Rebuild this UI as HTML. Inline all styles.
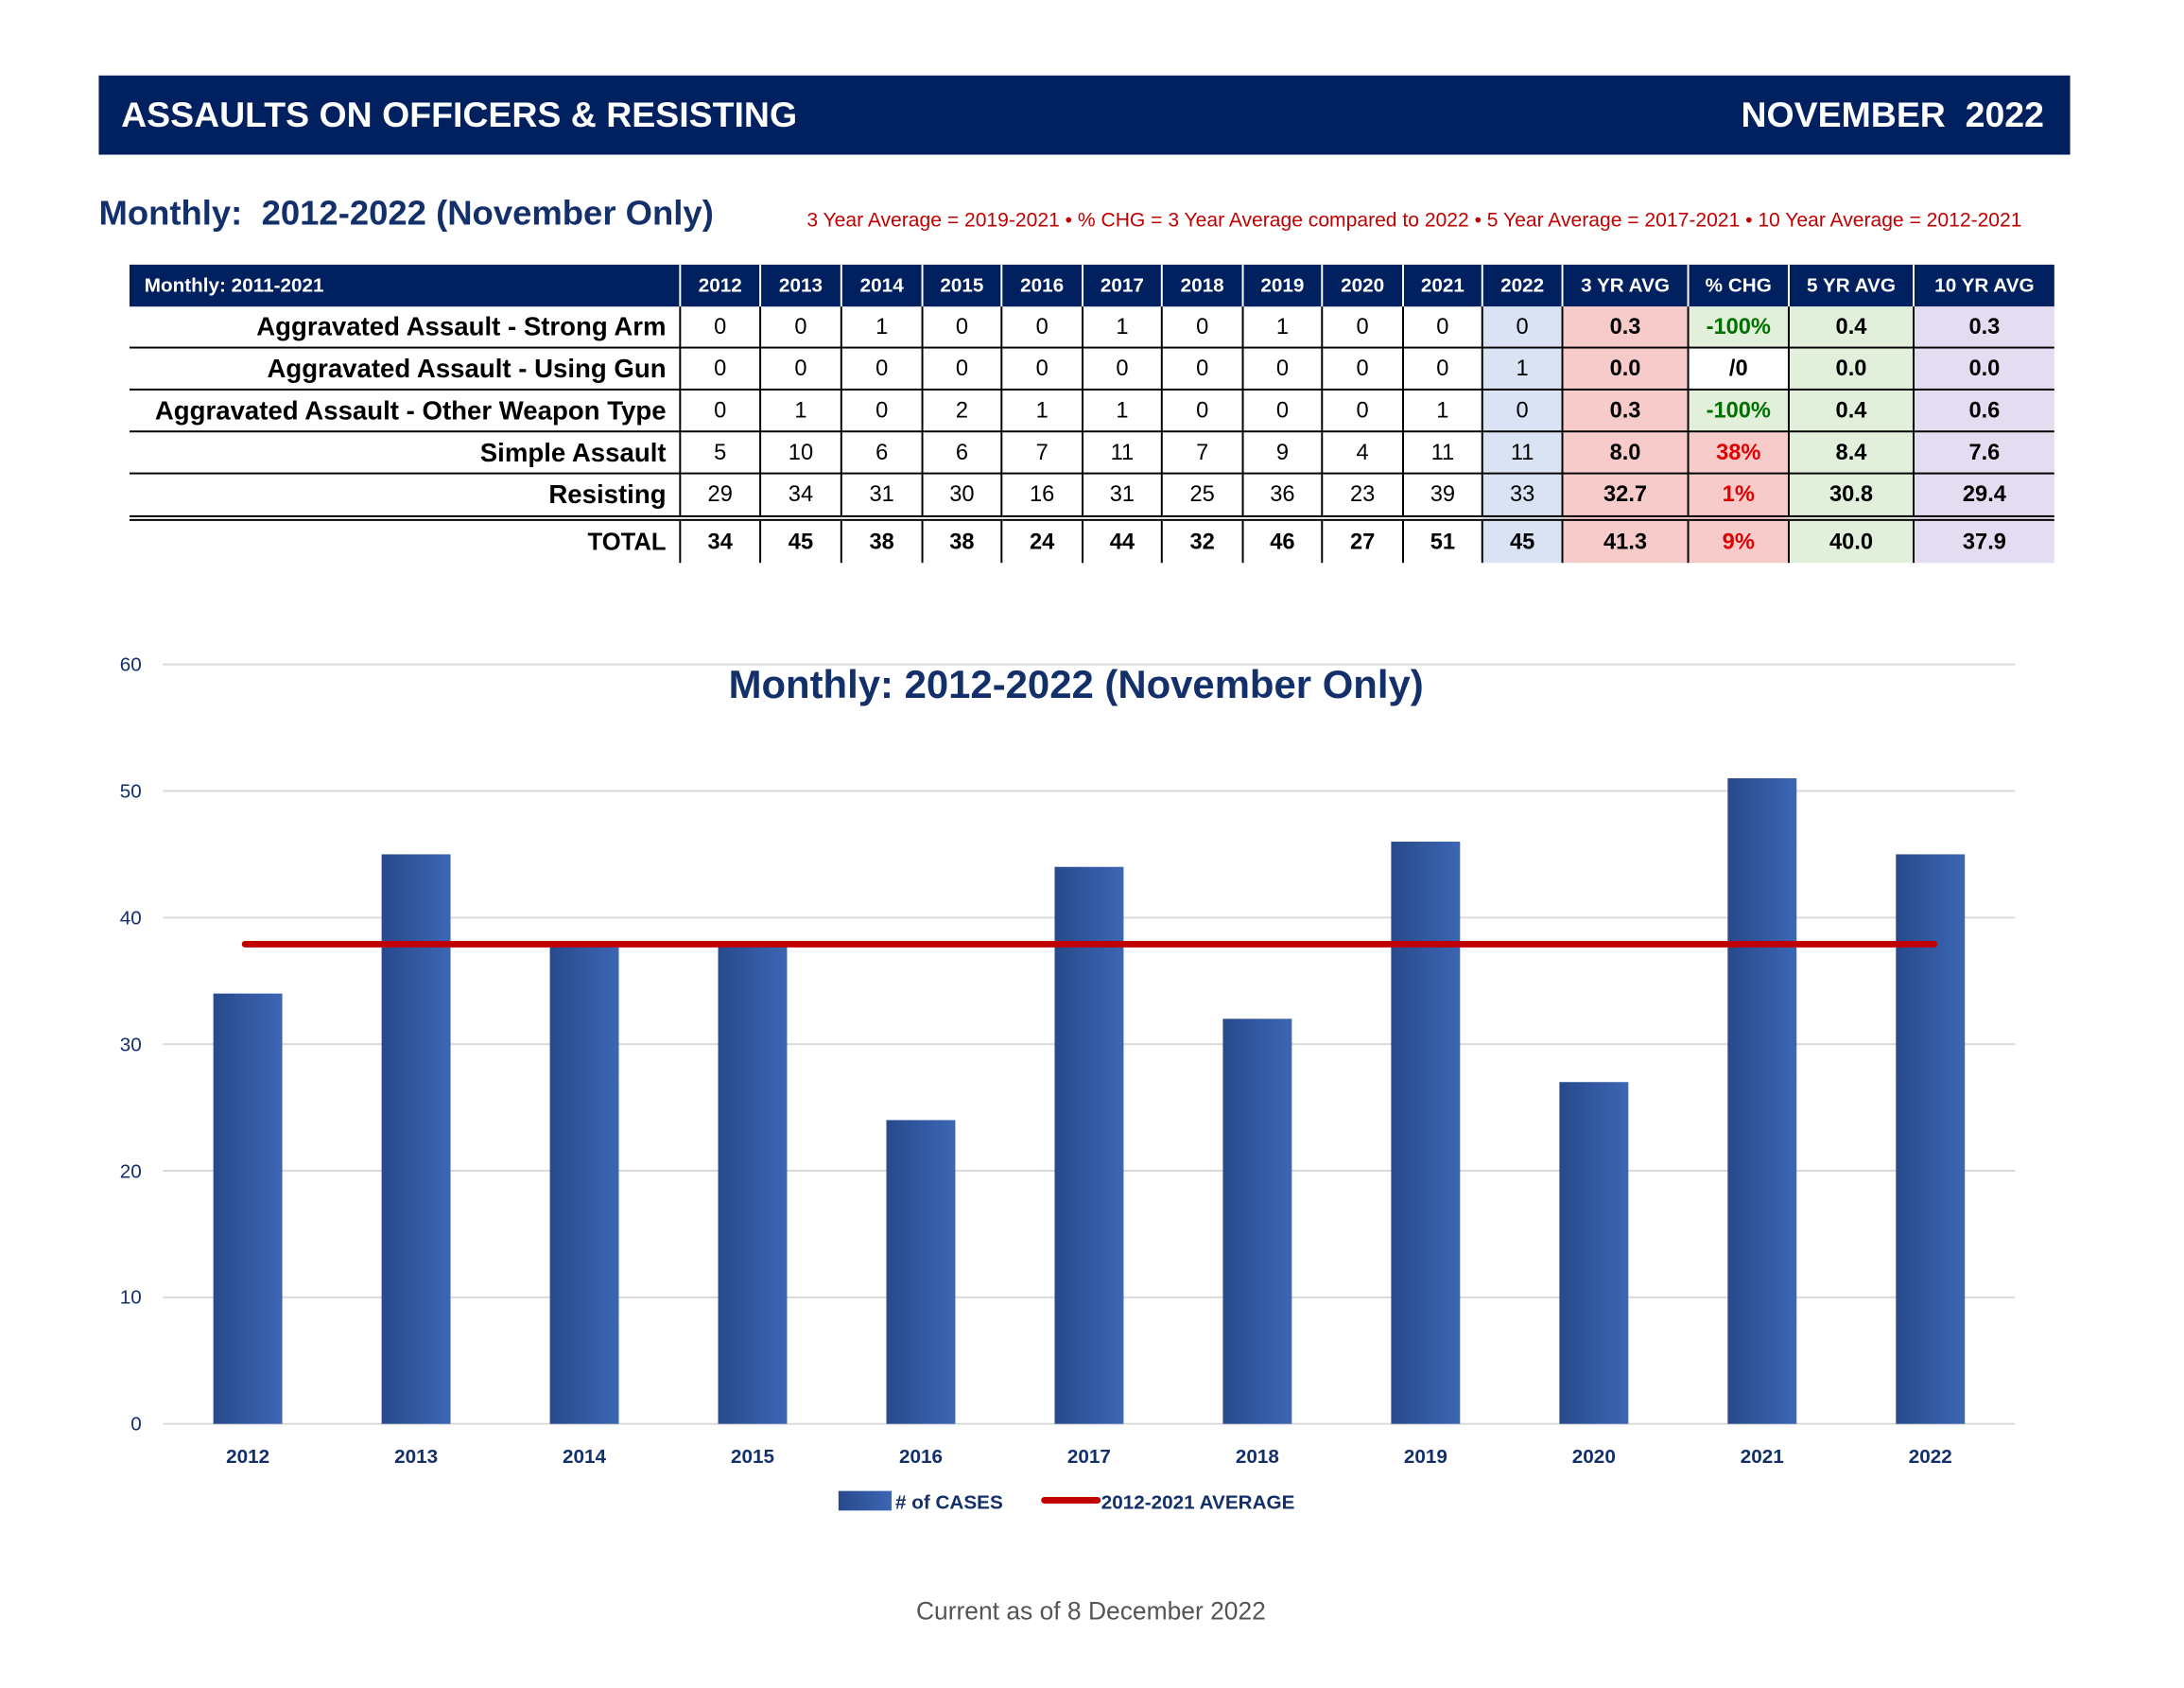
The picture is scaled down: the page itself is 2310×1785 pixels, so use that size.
<!DOCTYPE html>
<html><head><meta charset="utf-8"><style>
html,body{margin:0;padding:0}
body{width:2310px;height:1785px;background:#fff;position:relative;overflow:hidden;font-family:"Liberation Sans",sans-serif}
#w{position:absolute;left:0;top:0;width:2310px;height:1785px;transform:scale(0.9854);transform-origin:0 0}
.hdr{position:absolute;left:106px;top:81px;width:2116px;height:85px;background:#002060;color:#fff;font-weight:bold;font-size:38px}
.hdr span{position:absolute;top:22px}
.sub{position:absolute;left:106px;top:208px;font-size:37px;font-weight:bold;color:#13306b}
.note{position:absolute;left:866px;top:224px;font-size:21.4px;color:#c00000;white-space:nowrap}
table{position:absolute;left:139px;top:284px;border-collapse:collapse;table-layout:fixed;font-size:24px}
td{padding:0;text-align:center;height:43px;border:2px solid #000;border-top:none}
tr.h td{background:#002060;color:#fff;font-weight:bold;font-size:21px;height:45px;border:none;border-left:2px solid #fff}
tr.h td:first-child{text-align:left;padding-left:16px}
td.l{text-align:right;padding-right:14px;font-weight:bold;border-left:none;font-size:28px;white-space:nowrap}
td.b{font-weight:bold}
td.k{background:#dae3f3;border-left:2px dashed #000}
td.p{background:#f8cbcb;font-weight:bold}
td.g{background:#e2efda;font-weight:bold}
td.v{background:#e4dcf0;font-weight:bold;border-right:none}
td.gr{color:#007000}td.rd{color:#e00000}
tr.r5 td{border-bottom:6px double #000;height:44px}
tr.t td{font-weight:bold;border-bottom:none;height:45px}
.foot{position:absolute;left:0;width:2342px;text-align:center;top:1714px;font-size:26.8px;color:#555}
</style></head><body><div id="w">
<div class="hdr"><span style="left:24px">ASSAULTS ON OFFICERS &amp; RESISTING</span><span style="right:28px">NOVEMBER&nbsp; 2022</span></div>
<div class="sub">Monthly:&nbsp; 2012-2022 (November Only)</div>
<div class="note">3 Year Average = 2019-2021 • % CHG = 3 Year Average compared to 2022 • 5 Year Average = 2017-2021 • 10 Year Average = 2012-2021</div>
<table>
<colgroup><col style="width:591px"><col style="width:86px"><col style="width:87px"><col style="width:87px"><col style="width:85px"><col style="width:87px"><col style="width:85px"><col style="width:87px"><col style="width:85px"><col style="width:87px"><col style="width:85px"><col style="width:86px"><col style="width:135px"><col style="width:108px"><col style="width:134px"><col style="width:151px"></colgroup>
<tr class="h"><td style="border-left:none">Monthly: 2011-2021</td><td>2012</td><td>2013</td><td>2014</td><td>2015</td><td>2016</td><td>2017</td><td>2018</td><td>2019</td><td>2020</td><td>2021</td><td>2022</td><td>3 YR AVG</td><td>% CHG</td><td>5 YR AVG</td><td>10 YR AVG</td></tr>
<tr><td class="l">Aggravated Assault - Strong Arm</td><td>0</td><td>0</td><td>1</td><td>0</td><td>0</td><td>1</td><td>0</td><td>1</td><td>0</td><td>0</td><td class="k">0</td><td class="p">0.3</td><td class="g gr">-100%</td><td class="g">0.4</td><td class="v">0.3</td></tr>
<tr><td class="l">Aggravated Assault - Using Gun</td><td>0</td><td>0</td><td>0</td><td>0</td><td>0</td><td>0</td><td>0</td><td>0</td><td>0</td><td>0</td><td class="k">1</td><td class="p">0.0</td><td class="b">/0</td><td class="g">0.0</td><td class="v">0.0</td></tr>
<tr><td class="l">Aggravated Assault - Other Weapon Type</td><td>0</td><td>1</td><td>0</td><td>2</td><td>1</td><td>1</td><td>0</td><td>0</td><td>0</td><td>1</td><td class="k">0</td><td class="p">0.3</td><td class="g gr">-100%</td><td class="g">0.4</td><td class="v">0.6</td></tr>
<tr><td class="l">Simple Assault</td><td>5</td><td>10</td><td>6</td><td>6</td><td>7</td><td>11</td><td>7</td><td>9</td><td>4</td><td>11</td><td class="k">11</td><td class="p">8.0</td><td class="p rd">38%</td><td class="g">8.4</td><td class="v">7.6</td></tr>
<tr class="r5"><td class="l">Resisting</td><td>29</td><td>34</td><td>31</td><td>30</td><td>16</td><td>31</td><td>25</td><td>36</td><td>23</td><td>39</td><td class="k">33</td><td class="p">32.7</td><td class="p rd">1%</td><td class="g">30.8</td><td class="v">29.4</td></tr>
<tr class="t"><td class="l" style="font-size:26px">TOTAL</td><td>34</td><td>45</td><td>38</td><td>38</td><td>24</td><td>44</td><td>32</td><td>46</td><td>27</td><td>51</td><td class="k">45</td><td class="p">41.3</td><td class="p rd">9%</td><td class="g">40.0</td><td class="v">37.9</td></tr>
</table>
<svg width="2310" height="1785" style="position:absolute;left:0;top:0" font-family="Liberation Sans, sans-serif">
<defs><linearGradient id="bg" x1="0" x2="1"><stop offset="0" stop-color="#284a8c"/><stop offset="1" stop-color="#3c66b4"/></linearGradient></defs>
<g stroke="#d9d9d9" stroke-width="2">
<line x1="175" x2="2163" y1="713" y2="713"/><line x1="175" x2="2163" y1="848.8" y2="848.8"/><line x1="175" x2="2163" y1="984.7" y2="984.7"/><line x1="175" x2="2163" y1="1120.5" y2="1120.5"/><line x1="175" x2="2163" y1="1256.3" y2="1256.3"/><line x1="175" x2="2163" y1="1392.2" y2="1392.2"/><line x1="175" x2="2163" y1="1528" y2="1528"/></g>
<g fill="#13306b" font-size="21" text-anchor="end">
<text x="152" y="720">60</text><text x="152" y="856">50</text><text x="152" y="992">40</text><text x="152" y="1128">30</text><text x="152" y="1264">20</text><text x="152" y="1399">10</text><text x="152" y="1535">0</text></g>
<g fill="url(#bg)">
<rect x="229" y="1066.2" width="74" height="461.8"/><rect x="409.6" y="916.8" width="74" height="611.2"/><rect x="590.2" y="1011.8" width="74" height="516.2"/><rect x="770.8" y="1011.8" width="74" height="516.2"/><rect x="951.4" y="1202" width="74" height="326"/><rect x="1132" y="930.3" width="74" height="597.7"/><rect x="1312.6" y="1093.3" width="74" height="434.7"/><rect x="1493.2" y="903.2" width="74" height="624.8"/><rect x="1673.8" y="1161.2" width="74" height="366.8"/><rect x="1854.4" y="835.2" width="74" height="692.8"/><rect x="2035" y="916.8" width="74" height="611.2"/></g>
<line x1="263" x2="2076" y1="1013.2" y2="1013.2" stroke="#c00000" stroke-width="7" stroke-linecap="round"/>
<text x="1155" y="749" text-anchor="middle" font-size="42.5" font-weight="bold" fill="#13306b">Monthly: 2012-2022 (November Only)</text>
<g fill="#13306b" font-size="21" font-weight="bold" text-anchor="middle">
<text x="266" y="1570">2012</text><text x="446.6" y="1570">2013</text><text x="627.2" y="1570">2014</text><text x="807.8" y="1570">2015</text><text x="988.4" y="1570">2016</text><text x="1169" y="1570">2017</text><text x="1349.6" y="1570">2018</text><text x="1530.2" y="1570">2019</text><text x="1710.8" y="1570">2020</text><text x="1891.4" y="1570">2021</text><text x="2072" y="1570">2022</text></g>
<rect x="900" y="1600" width="57" height="21" fill="url(#bg)"/>
<text x="961" y="1619" font-size="21" font-weight="bold" fill="#13306b">#  of CASES</text>
<line x1="1121" x2="1178" y1="1610" y2="1610" stroke="#c00000" stroke-width="7" stroke-linecap="round"/>
<text x="1182" y="1619" font-size="21" font-weight="bold" fill="#13306b">2012-2021 AVERAGE</text>
</svg>
<div class="foot">Current as of 8 December 2022</div>
</div></body></html>
